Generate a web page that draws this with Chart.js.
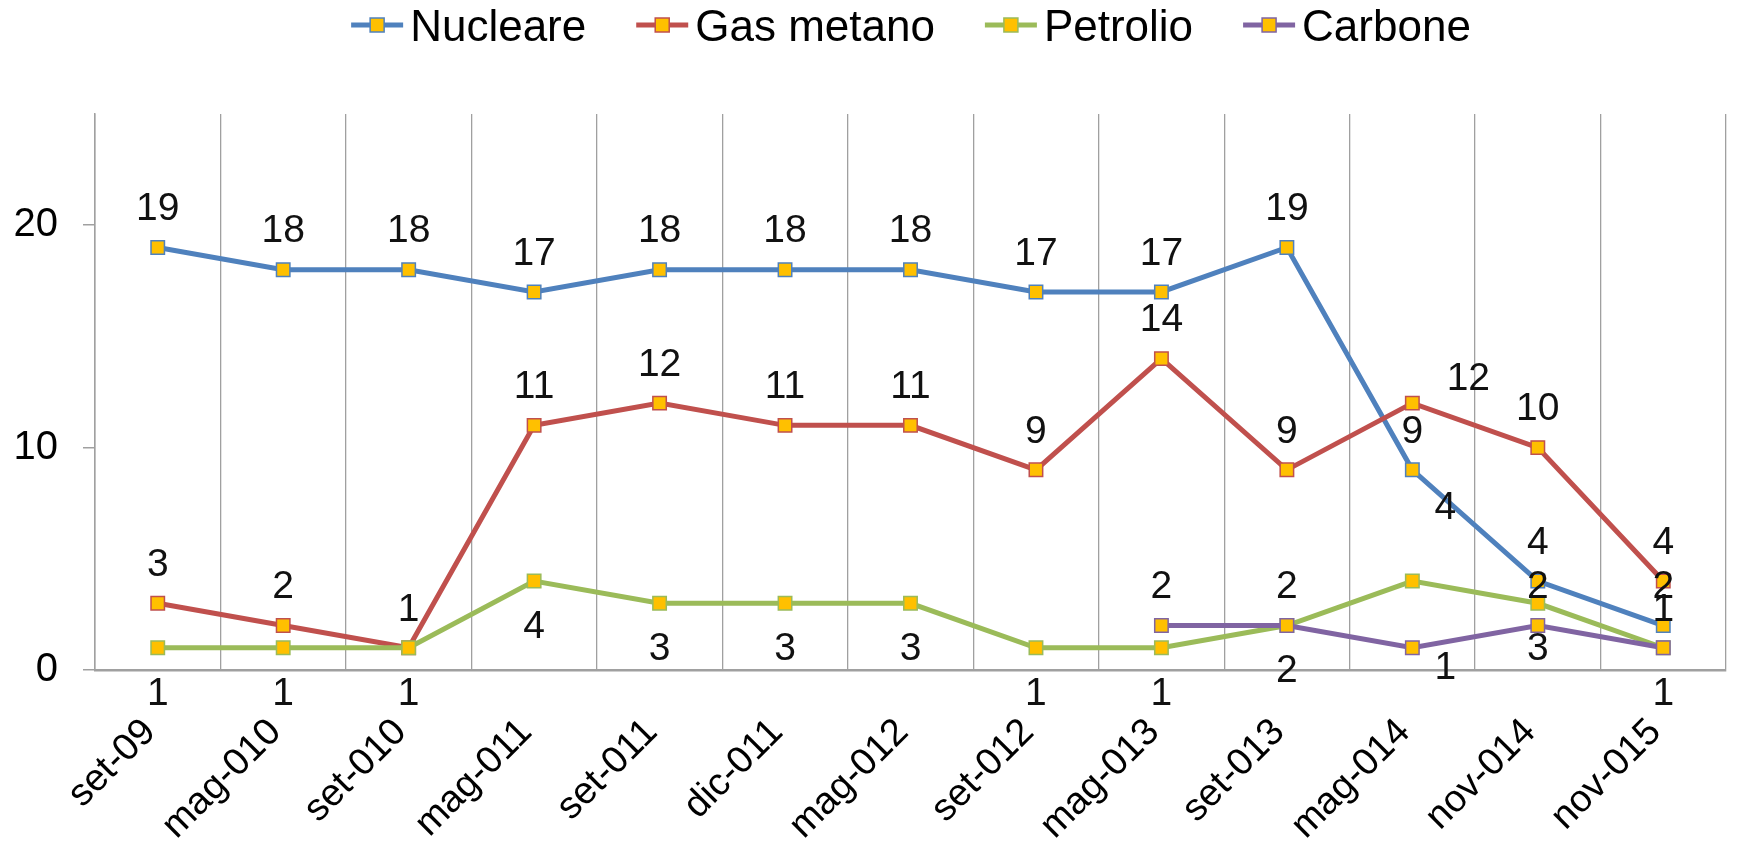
<!DOCTYPE html>
<html lang="it">
<head>
<meta charset="UTF-8">
<title>Nucleare, gas metano, petrolio, carbone</title>
<script src="https://cdn.jsdelivr.net/npm/chart.js@4.4.1/dist/chart.umd.min.js"></script>
<style>
  html,body{margin:0;padding:0;background:#fff}
  #wrap{width:1737px;height:848px}
</style>
</head>
<body>
<div id="wrap"><canvas id="chart" width="1737" height="848"></canvas></div>
<script>
/* ---- values ---- */
const labels    = ['set-09','mag-010','set-010','mag-011','set-011','dic-011','mag-012','set-012','mag-013','set-013','mag-014','nov-014','nov-015'];
const nucleare  = [19,18,18,17,18,18,18,17,17,19,9,4,2];
const gasMetano = [3,2,1,11,12,11,11,9,14,9,12,10,4];
const petrolio  = [1,1,1,4,3,3,3,1,1,2,4,3,1];
const carbone   = [null,null,null,null,null,null,null,null,2,2,1,2,1];
const yTicks    = [0,10,20];

const FONT = "'Liberation Sans', Arial, sans-serif";
const MARKER = '#FFC000';
const GRID = '#A0A0A0';

// series styling + where the value labels sit
const series = [
  {name:'Nucleare',   data:nucleare,  color:'#4F81BD', side:'above', moved:{}},
  {name:'Gas metano', data:gasMetano, color:'#C0504D', side:'above', moved:{10:[56,-26]}},
  {name:'Petrolio',   data:petrolio,  color:'#9BBB59', side:'below', moved:{10:[33,-75]}},
  {name:'Carbone',    data:carbone,   color:'#8064A2', side:'above', moved:{10:[33,18]}}
];

/* value labels next to the points */
const valueLabels = {
  id:'valueLabels',
  afterDatasetsDraw(chart){
    const ctx = chart.ctx;
    ctx.save();
    ctx.font = '39px ' + FONT;
    ctx.fillStyle = '#111';
    ctx.textAlign = 'center';
    ctx.textBaseline = 'middle';
    series.forEach((s,di)=>{
      const meta = chart.getDatasetMeta(di);
      meta.data.forEach((pt,i)=>{
        const v = s.data[i];
        if(v===null||v===undefined) return;
        let dx = 0, dy = s.side==='above' ? -40 : 44;
        if(s.moved[i]){ dx = s.moved[i][0]; dy = s.moved[i][1]; }
        ctx.fillText(String(v), pt.x+dx, pt.y+dy+2);
      });
    });
    ctx.restore();
  }
};

/* legend row: line + square marker, then the name */
const lineLegend = {
  id:'lineLegend',
  afterDraw(chart){
    const ctx = chart.ctx;
    ctx.save();
    ctx.font = '44px ' + FONT;
    const iconW = 52, gapText = 7, gapItem = 50;
    const widths = series.map(s=>iconW+gapText+ctx.measureText(s.name).width);
    const total = widths.reduce((a,b)=>a+b,0) + gapItem*(series.length-1);
    let x = 911 - total/2;
    const cy = 25;
    series.forEach((s,i)=>{
      ctx.strokeStyle = s.color; ctx.lineWidth = 5;
      ctx.beginPath(); ctx.moveTo(x,cy); ctx.lineTo(x+iconW,cy); ctx.stroke();
      ctx.fillStyle = MARKER; ctx.lineWidth = 1.5;
      ctx.fillRect(x+iconW/2-7,cy-7,14,14);
      ctx.strokeRect(x+iconW/2-7,cy-7,14,14);
      ctx.fillStyle = '#000';
      ctx.textBaseline = 'alphabetic';
      ctx.fillText(s.name, x+iconW+gapText, 41);
      x += widths[i] + gapItem;
    });
    ctx.restore();
  }
};

new Chart(document.getElementById('chart'),{
  type:'line',
  data:{
    labels:labels,
    datasets:series.map((s,i)=>({
      label:s.name,
      data:s.data,
      borderColor:s.color,
      borderWidth:5,
      pointStyle:'rect',
      pointRadius:9.5,
      pointBackgroundColor:MARKER,
      pointBorderColor:s.color,
      pointBorderWidth:1.5,
      tension:0,
      spanGaps:false,
      order:series.length-i
    }))
  },
  options:{
    responsive:false,
    animation:false,
    layout:{padding:{top:114,left:0,right:2,bottom:0}},
    plugins:{legend:{display:false},tooltip:{enabled:false}},
    scales:{
      x:{
        offset:true,
        grid:{display:true,offset:true,drawTicks:false,color:GRID,lineWidth:1.3},
        border:{display:true,color:GRID,width:2.5},
        ticks:{
          autoSkip:false,maxRotation:45,minRotation:45,
          padding:40,labelOffset:-8,
          color:'#000',font:{family:FONT,size:38}
        },
        afterFit(s){ s.height = 178; s.paddingLeft = 0; s.paddingRight = 0; }
      },
      y:{
        min:0,max:25,
        grid:{drawOnChartArea:false,drawTicks:true,tickLength:12,color:GRID,lineWidth:1.5},
        border:{display:true,color:GRID,width:1.5},
        ticks:{stepSize:10,includeBounds:false,padding:25,color:'#000',font:{family:FONT,size:40}},
        afterBuildTicks(s){ s.ticks = yTicks.map(v=>({value:v})); },
        afterFit(s){ s.width = 95; s.paddingTop = 0; s.paddingBottom = 0; }
      }
    }
  },
  plugins:[valueLabels,lineLegend]
});
</script>
</body>
</html>
